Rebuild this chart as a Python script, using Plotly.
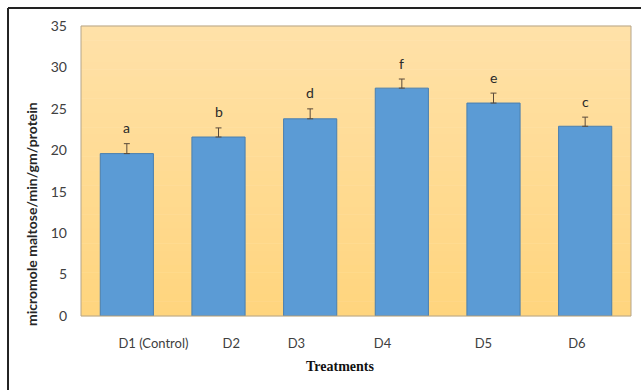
import plotly.graph_objects as go

# Amylase activity per treatment
treatments = ["D1 (Control)", "D2", "D3", "D4", "D5", "D6"]
activity = [19.6, 21.6, 23.8, 27.5, 25.7, 22.9]
std_err = [1.2, 1.1, 1.2, 1.1, 1.2, 1.1]
letters = ["a", "b", "d", "f", "e", "c"]

# horizontal nudges for the category labels (in category units)
label_shift = [0.29, 0.14, -0.15, -0.21, -0.11, -0.09]

positions = list(range(len(treatments)))

fig = go.Figure()

fig.add_trace(go.Bar(
    x=positions,
    y=activity,
    width=0.58,
    marker=dict(color="#5B9BD5", line=dict(color="#4A7FAF", width=1)),
    error_y=dict(type="data", symmetric=False, array=std_err,
                 arrayminus=[0] * len(std_err),
                 color="#5A4A3A", thickness=1, width=3),
    hoverinfo="skip",
))

# significance letters above the error bars
for x, v, e, t in zip(positions, activity, std_err, letters):
    fig.add_annotation(x=x, y=v + e, text=t, showarrow=False, yshift=16,
                       font=dict(family="Lato", size=14, color="#2A2A2A"))

# vertical gradient behind the plot area
shapes = []
n_strips = 40
top_rgb = (255, 225, 168)
bot_rgb = (255, 213, 126)
for i in range(n_strips):
    f = i / (n_strips - 1)
    r = round(top_rgb[0] + (bot_rgb[0] - top_rgb[0]) * f)
    g = round(top_rgb[1] + (bot_rgb[1] - top_rgb[1]) * f)
    b = round(top_rgb[2] + (bot_rgb[2] - top_rgb[2]) * f)
    y1 = 1 - i / n_strips
    y0 = 1 - (i + 1) / n_strips
    shapes.append(dict(type="rect", xref="paper", yref="paper",
                       x0=0, x1=1, y0=y0 - 0.001, y1=y1 + 0.001,
                       fillcolor=f"rgb({r},{g},{b})", line=dict(width=0),
                       layer="below"))
# plot frame
shapes.append(dict(type="rect", xref="paper", yref="paper", x0=0, x1=1, y0=0, y1=1,
                   line=dict(color="#B5A58A", width=1), layer="above"))
# outer frame (top and left edges)
shapes.append(dict(type="line", xref="paper", yref="paper",
                   x0=-0.1327, x1=1.05, y0=1.0621, y1=1.0621,
                   line=dict(color="#222222", width=2)))
shapes.append(dict(type="line", xref="paper", yref="paper",
                   x0=-0.1327, x1=-0.1327, y0=-0.3, y1=1.0621,
                   line=dict(color="#222222", width=2)))

fig.add_annotation(xref="paper", yref="paper", x=-0.089, y=0.352,
                   text="<b>micromole maltose/min/gm/protein</b>", textangle=-90,
                   showarrow=False, xanchor="center", yanchor="middle",
                   font=dict(family="Lato", size=14, color="#262626"))
fig.add_annotation(xref="paper", yref="paper", x=0.471, y=-0.175,
                   text="<b>Treatments</b>", showarrow=False,
                   xanchor="center", yanchor="middle",
                   font=dict(family="Liberation Serif", size=14, color="#111111"))

fig.update_layout(
    width=641, height=390,
    margin=dict(l=81, r=10, t=26, b=74),
    paper_bgcolor="white",
    plot_bgcolor="rgba(0,0,0,0)",
    showlegend=False,
    shapes=shapes,
    xaxis=dict(
        range=[-0.5, 5.5],
        tickmode="array",
        tickvals=[p + s for p, s in zip(positions, label_shift)],
        ticktext=treatments,
        showgrid=False, zeroline=False, showline=False, ticks="",
        ticklabelstandoff=18,
        tickfont=dict(family="Lato", size=13, color="#404040"),
        fixedrange=True,
    ),
    yaxis=dict(
        range=[0, 35],
        tickvals=[0, 5, 10, 15, 20, 25, 30, 35],
        showgrid=False, zeroline=False, showline=False, ticks="",
        ticklabelstandoff=13,
        tickfont=dict(family="Lato", size=14, color="#404040"),
        fixedrange=True,
    ),
)

fig.write_html("out.html")
